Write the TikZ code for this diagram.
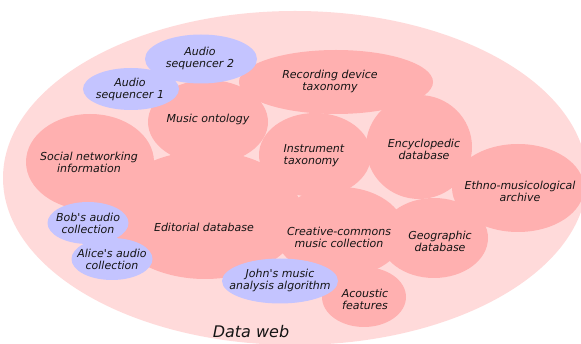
\documentclass[tikz,border=0pt]{standalone}
\usepackage{fontspec}
\setmainfont{DejaVu Sans}
\usetikzlibrary{shapes.geometric}
\definecolor{webpink}{RGB}{255,218,218}
\definecolor{setpink}{RGB}{255,176,176}
\definecolor{agentblue}{RGB}{196,196,255}
\definecolor{txt}{RGB}{20,20,20}
\newcommand{\apos}{\textquotesingle}
\tikzset{
  lbl/.style={align=center, text=txt, font=\fontsize{11}{12}\selectfont\itshape, inner sep=0pt},
  setfill/.style={fill=setpink},
  agentfill/.style={fill=agentblue}
}
\begin{document}
\begin{tikzpicture}[x=1pt,y=-1pt]
\useasboundingbox (0,0) rectangle (581,344);
% data web
\fill[webpink] (295,178) ellipse [x radius=292, y radius=167];
% datasets (fills)
\fill[setfill] (90,162) ellipse [x radius=64, y radius=48];
\fill[setfill] (208,122) ellipse [x radius=60, y radius=42];
\fill[setfill] (205,215) ellipse [x radius=97, y radius=64];
\fill[setfill] (315,155) ellipse [x radius=56, y radius=42];
\fill[setfill] (336,82) ellipse [x radius=97, y radius=32];
\fill[setfill] (419,147) ellipse [x radius=53, y radius=52];
\fill[setfill] (518,188) ellipse [x radius=66, y radius=44];
\fill[setfill] (434,238) ellipse [x radius=54, y radius=40];
\fill[setfill] (340,232) ellipse [x radius=65, y radius=45];
\fill[setfill] (364,297) ellipse [x radius=42, y radius=30];
% agents (fills)
\fill[agentfill] (201,59) ellipse [x radius=56, y radius=24.5];
\fill[agentfill] (131,89) ellipse [x radius=48, y radius=21];
\fill[agentfill] (88,223) ellipse [x radius=40.5, y radius=21];
\fill[agentfill] (112,259) ellipse [x radius=40.5, y radius=21];
\fill[agentfill] (280,281) ellipse [x radius=58, y radius=22.5];
% dataset labels
\node[lbl] (social) at (89,162) {Social networking\\information};
\node[lbl] (onto) at (208,119) {Music ontology};
\node[lbl] (edit) at (204,227) {Editorial database};
\node[lbl, align=left] (instr) at (314,156) {Instrument\\taxonomy};
\node[lbl] (rec) at (330,81) {Recording device\\taxonomy};
\node[lbl] (ency) at (424,149) {Encyclopedic\\database};
\node[lbl] (ethno) at (520,191) {Ethno-musicological\\archive};
\node[lbl] (geo) at (440,241) {Geographic\\database};
\node[lbl] (cc) at (339,237) {Creative-commons\\music collection};
\node[lbl] (acou) at (365,299) {Acoustic\\features};
% agent labels
\node[lbl] (seq2) at (200,58) {Audio\\sequencer 2};
\node[lbl] (seq1) at (130,89) {Audio\\sequencer 1};
\node[lbl] (bob) at (88,223) {Bob\apos s audio\\collection};
\node[lbl] (alice) at (112,259) {Alice\apos s audio\\collection};
\node[lbl] (john) at (280,280) {John\apos s music\\analysis algorithm};
% title
\node[lbl, font=\fontsize{16}{18}\selectfont\itshape] (web) at (251,332) {Data web};
\end{tikzpicture}
\end{document}
